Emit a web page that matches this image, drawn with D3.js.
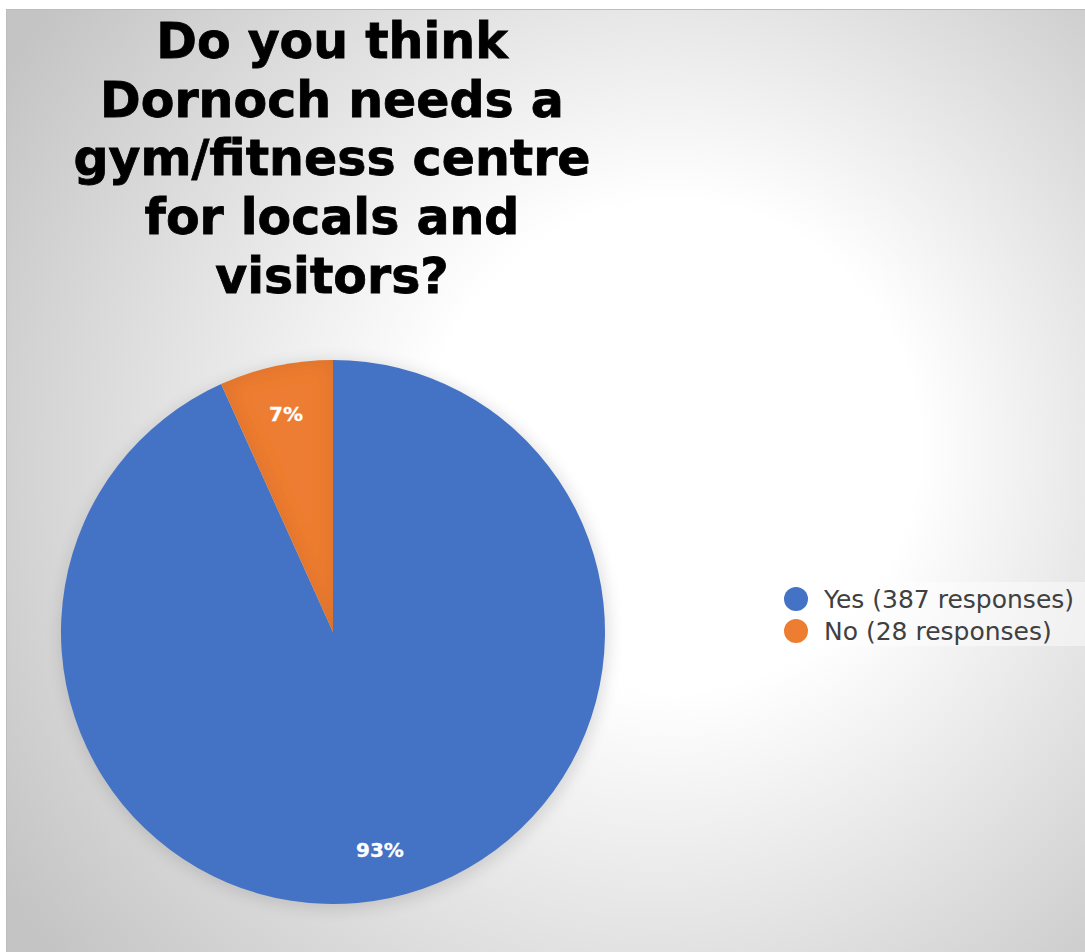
<!DOCTYPE html>
<html>
<head>
<meta charset="utf-8">
<script src="https://cdn.jsdelivr.net/npm/d3@7"></script>
<style>
  html, body { margin: 0; padding: 0; background: #fff; }
  svg { display: block; }
</style>
</head>
<body>
<div id="chart"></div>
<script>
// data
const categories = ["Yes", "No"];
const responses = [387, 28];
const legendLabels = ["Yes (387 responses)", "No (28 responses)"];
const colors = ["#4472C4", "#ED7D31"];
const titleLines = ["Do you think", "Dornoch needs a", "gym/fitness centre", "for locals and", "visitors?"];

const width = 1085;
const height = 952;
const cx = 333, cy = 632, radius = 272;

const svg = d3.select("#chart").append("svg")
  .attr("width", width)
  .attr("height", height);

const defs = svg.append("defs");

// background gradient: white glow to the right of the pie, grey to the edges
const bg = defs.append("radialGradient")
  .attr("id", "bg")
  .attr("gradientUnits", "userSpaceOnUse")
  .attr("cx", 620).attr("cy", 480).attr("r", 740)
  .attr("fx", 700).attr("fy", 430);
bg.append("stop").attr("offset", 0).attr("stop-color", "#ffffff");
bg.append("stop").attr("offset", 0.33).attr("stop-color", "#ffffff");
bg.append("stop").attr("offset", 1).attr("stop-color", "#c4c4c4");

// soft shadow behind the pie
const shadow = defs.append("filter").attr("id", "shadow")
  .attr("x", "-20%").attr("y", "-20%").attr("width", "140%").attr("height", "140%");
shadow.append("feGaussianBlur").attr("stdDeviation", 8);

// inner shading on slices
const inner = defs.append("filter").attr("id", "inner")
  .attr("x", "-10%").attr("y", "-10%").attr("width", "120%").attr("height", "120%");
inner.append("feGaussianBlur").attr("in", "SourceAlpha").attr("stdDeviation", 10).attr("result", "blur");
inner.append("feComposite").attr("in", "SourceAlpha").attr("in2", "blur")
  .attr("operator", "arithmetic").attr("k2", 1).attr("k3", -1).attr("result", "edge");
inner.append("feFlood").attr("flood-color", "#000").attr("flood-opacity", 0.18);
inner.append("feComposite").attr("in2", "edge").attr("operator", "in").attr("result", "shade");
const merge = inner.append("feMerge");
merge.append("feMergeNode").attr("in", "SourceGraphic");
merge.append("feMergeNode").attr("in", "shade");

// chart area
svg.append("rect")
  .attr("x", 6.5).attr("y", 9.5)
  .attr("width", width).attr("height", height)
  .attr("fill", "url(#bg)")
  .attr("stroke", "#bdbdbd")
  .attr("stroke-width", 1);

// title
svg.append("text")
  .attr("text-anchor", "middle")
  .attr("font-family", "DejaVu Sans, Verdana, sans-serif")
  .attr("font-weight", "bold")
  .attr("font-size", 49)
  .attr("fill", "#000")
  .attr("stroke", "#000")
  .attr("stroke-width", 0.8)
  .selectAll("tspan")
  .data(titleLines)
  .join("tspan")
  .attr("x", 332)
  .attr("y", (d, i) => 58 + i * 58.7)
  .text(d => d);

// pie
const pie = d3.pie().sort(null).value(d => d);
const arcs = pie(responses);
const arc = d3.arc().innerRadius(0).outerRadius(radius);
const labelArc = d3.arc().innerRadius(radius * 0.82).outerRadius(radius * 0.82);

const g = svg.append("g").attr("transform", `translate(${cx},${cy})`);

g.append("circle")
  .attr("cx", 2).attr("cy", 3)
  .attr("r", radius + 2)
  .attr("fill", "#000")
  .attr("opacity", 0.12)
  .attr("filter", "url(#shadow)");

g.selectAll("path.slice")
  .data(arcs)
  .join("path")
  .attr("class", "slice")
  .attr("d", arc)
  .attr("fill", (d, i) => colors[i])
  .attr("filter", (d, i) => i === 1 ? "url(#inner)" : null);

const total = d3.sum(responses);
g.selectAll("text.pct")
  .data(arcs)
  .join("text")
  .attr("class", "pct")
  .attr("transform", d => `translate(${labelArc.centroid(d)})`)
  .attr("text-anchor", "middle")
  .attr("dy", "0.35em")
  .attr("font-family", "DejaVu Sans, Verdana, sans-serif")
  .attr("font-weight", "bold")
  .attr("font-size", 20)
  .attr("fill", "#fff")
  .attr("stroke", "#fff")
  .attr("stroke-width", 0.3)
  .text(d => Math.round(d.data / total * 100) + "%");

// legend
const legend = svg.append("g").attr("transform", "translate(768,582)");
legend.append("rect")
  .attr("width", 320).attr("height", 64)
  .attr("fill", "#ffffff").attr("opacity", 0.45);

const item = legend.selectAll("g")
  .data(categories)
  .join("g")
  .attr("transform", (d, i) => `translate(0,${17 + i * 32})`);

item.append("circle")
  .attr("cx", 28).attr("cy", 0).attr("r", 12)
  .attr("fill", (d, i) => colors[i]);

item.append("text")
  .attr("x", 56)
  .attr("dy", "0.35em")
  .attr("font-family", "DejaVu Sans, Verdana, sans-serif")
  .attr("font-size", 25)
  .attr("fill", "#404040")
  .text((d, i) => legendLabels[i]);
</script>
</body>
</html>
